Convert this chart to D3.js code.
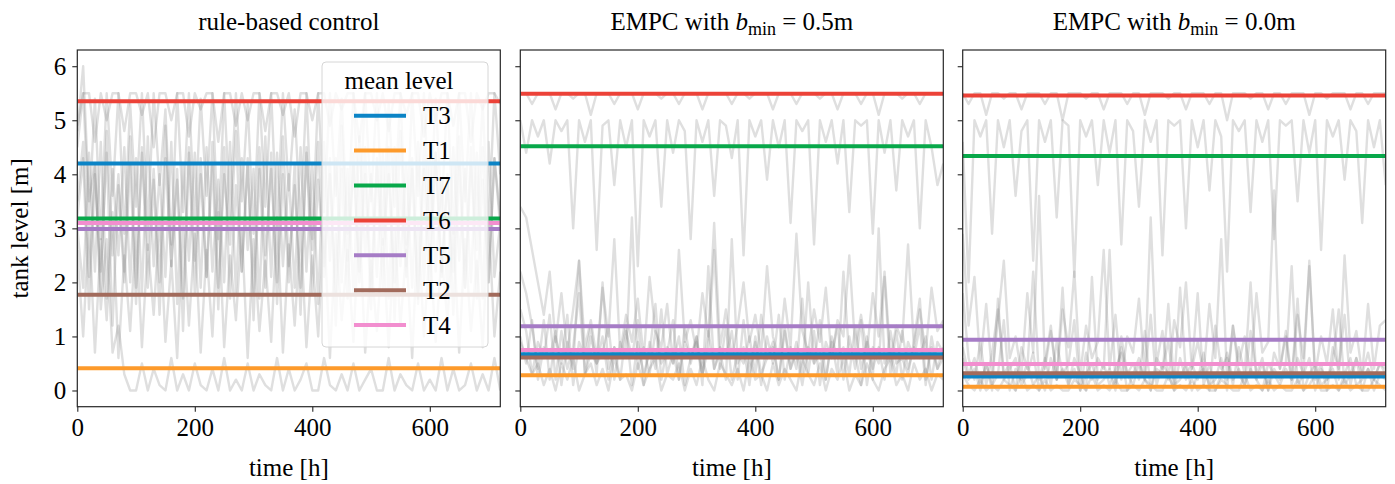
<!DOCTYPE html>
<head>
  <meta charset="utf-8">
  <script src="https://d3js.org/d3.v7.min.js"></script>
  <style>
    body {
      margin: 0;
      background: #fff;
    }

    text {
      font-family: 'Liberation Serif', serif;
      font-size: 25px;
      fill: #000;
    }

    .tick line {
      stroke: #262626;
      stroke-width: 1.1;
    }

    .domain {
      display: none;
    }

    .trace {
      fill: none;
      stroke: #808080;
      stroke-opacity: 0.25;
      stroke-width: 2.4;
      stroke-linejoin: round;
    }
  </style>
</head>
<body>
  <script>
    // tanks in legend / drawing order
    var tanks = ["T3", "T1", "T7", "T6", "T5", "T2", "T4"];
    var tankColors = ["#0b84c6", "#fd9a2b", "#08a84a", "#ec4238", "#a67cc6", "#a26b5c", "#f28ecf"];

    var xTicks = [0, 200, 400, 600];
    var yTicks = [0, 1, 2, 3, 4, 5, 6];

    // mean level per tank (same order as tanks)
    var meansRule = [4.20, 0.41, 3.18, 5.35, 2.99, 1.77, 3.10];
    var meansB05  = [0.67, 0.28, 4.52, 5.49, 1.19, 0.61, 0.75];
    var meansB00  = [0.26, 0.07, 4.34, 5.46, 0.94, 0.32, 0.49];

    // tank level traces, read every ~10 h over 0..720 h
    var ruleT3 = [4.5, 5.5, 3.2, 5.4, 2.8, 5.5, 3.6, 5.5, 2.9, 5.3, 3.4, 5.5, 3.0, 5.5, 3.8, 5.2, 2.7, 5.5, 3.3, 5.5, 3.1, 5.4, 3.6, 5.5, 2.8, 5.5, 3.2, 5.5, 3.5, 5.3, 2.9, 5.5, 3.4, 5.5, 3.0, 5.5, 3.7, 5.2, 3.1, 5.5, 2.8, 5.5, 3.3, 5.5, 3.6, 5.4, 2.9, 5.5, 3.2, 5.5, 3.5, 5.5, 3.0, 5.3, 3.4, 5.5, 2.7, 5.5, 3.6, 5.5, 3.1, 5.4, 3.3, 5.5, 2.9, 5.5, 3.5, 5.5, 3.2, 5.3, 3.0, 5.5, 4.0];
    var ruleT1 = [4.8, 6.0, 3.5, 4.2, 1.5, 2.8, 0.7, 1.2, 0.3, 0.0, 0.0, 0.5, 0.0, 0.4, 0.1, 0.0, 0.6, 0.0, 0.3, 0.0, 0.5, 0.1, 0.0, 0.4, 0.0, 0.6, 0.0, 0.2, 0.0, 0.5, 0.0, 0.3, 0.1, 0.0, 0.6, 0.0, 0.4, 0.0, 0.2, 0.5, 0.0, 0.0, 0.6, 0.1, 0.0, 0.3, 0.0, 0.5, 0.0, 0.2, 0.4, 0.0, 0.0, 0.6, 0.0, 0.3, 0.1, 0.0, 0.5, 0.0, 0.2, 0.0, 0.6, 0.0, 0.4, 0.0, 0.1, 0.5, 0.0, 0.3, 0.0, 0.6, 0.0];
    var ruleT7 = [3.5, 4.6, 2.1, 4.2, 1.8, 4.8, 2.5, 4.0, 2.2, 4.7, 1.9, 4.4, 2.6, 4.1, 2.0, 4.9, 2.3, 3.9, 1.7, 4.5, 2.4, 4.3, 2.1, 4.6, 1.9, 4.0, 2.7, 4.8, 2.2, 4.2, 1.8, 4.5, 2.5, 4.1, 2.0, 4.7, 2.3, 3.8, 1.9, 4.4, 2.6, 4.6, 2.1, 4.0, 1.8, 4.9, 2.4, 4.2, 2.2, 4.5, 1.9, 4.3, 2.7, 4.0, 2.0, 4.8, 2.3, 4.1, 1.7, 4.6, 2.5, 4.4, 2.1, 3.9, 2.2, 4.7, 1.9, 4.2, 2.6, 4.5, 2.0, 4.3, 3.2];
    var ruleT6 = [4.9, 5.5, 5.5, 4.6, 5.5, 5.0, 5.5, 5.5, 4.8, 5.5, 5.5, 5.1, 5.5, 4.5, 5.5, 5.5, 5.0, 5.5, 5.5, 4.7, 5.5, 5.2, 5.5, 5.5, 4.6, 5.5, 5.5, 4.9, 5.5, 5.0, 5.5, 5.5, 4.8, 5.5, 5.5, 5.1, 5.5, 4.7, 5.5, 5.5, 5.0, 5.5, 5.5, 4.9, 5.5, 5.2, 5.5, 5.5, 4.6, 5.5, 5.5, 5.0, 5.5, 4.8, 5.5, 5.5, 5.1, 5.5, 5.5, 4.7, 5.5, 5.0, 5.5, 5.5, 4.9, 5.5, 5.5, 4.6, 5.5, 5.2, 5.5, 5.5, 5.3];
    var ruleT5 = [3.2, 4.3, 1.5, 4.0, 2.2, 4.4, 1.2, 3.8, 2.0, 4.2, 1.6, 4.5, 1.9, 3.9, 1.4, 4.3, 2.3, 4.1, 1.1, 4.4, 1.8, 4.0, 2.1, 4.2, 1.5, 4.5, 1.7, 3.8, 2.2, 4.3, 1.3, 4.1, 1.9, 4.4, 1.6, 4.0, 2.0, 4.2, 1.4, 4.5, 1.8, 3.9, 2.3, 4.3, 1.2, 4.1, 1.7, 4.4, 2.0, 4.0, 1.5, 4.2, 1.9, 4.5, 1.3, 3.8, 2.1, 4.3, 1.6, 4.1, 1.8, 4.4, 2.2, 4.0, 1.4, 4.2, 1.9, 4.5, 1.7, 3.9, 2.0, 4.3, 3.0];
    var ruleT2 = [2.6, 1.0, 3.1, 0.7, 2.8, 1.3, 3.3, 0.6, 2.5, 1.1, 3.0, 0.8, 2.7, 1.4, 3.2, 0.9, 2.4, 0.6, 3.1, 1.2, 2.9, 0.7, 2.6, 1.0, 3.3, 0.8, 2.5, 1.3, 3.0, 0.6, 2.8, 1.1, 2.4, 0.9, 3.2, 0.7, 2.7, 1.2, 3.0, 0.8, 2.5, 1.0, 3.1, 0.6, 2.9, 1.3, 2.6, 0.9, 3.2, 0.7, 2.4, 1.1, 2.8, 0.8, 3.0, 1.2, 2.6, 0.6, 3.1, 1.0, 2.7, 0.9, 2.5, 1.3, 3.0, 0.7, 2.8, 1.1, 2.4, 0.8, 3.2, 1.0, 2.2];
    var ruleT4 = [3.0, 1.9, 4.4, 2.2, 4.6, 1.7, 4.1, 2.5, 4.5, 2.0, 4.3, 1.8, 4.7, 2.3, 4.0, 2.1, 4.6, 1.6, 4.2, 2.4, 4.4, 1.9, 4.5, 2.2, 3.9, 2.0, 4.6, 1.8, 4.3, 2.6, 4.1, 1.7, 4.7, 2.1, 4.4, 2.3, 4.0, 1.9, 4.5, 2.2, 4.2, 1.6, 4.6, 2.4, 4.3, 2.0, 4.1, 1.8, 4.7, 2.5, 4.0, 2.1, 4.4, 1.7, 4.5, 2.3, 4.2, 1.9, 4.6, 2.0, 4.3, 2.2, 3.9, 1.8, 4.5, 2.4, 4.1, 2.0, 4.4, 1.7, 4.6, 2.1, 3.1];

    var b05T3 = [1.5, 1.1, 0.3, 0.9, 0.6, 1.4, 0.2, 1.1, 0.4, 0.8, 1.8, 0.3, 1.0, 0.5, 0.7, 1.2, 0.2, 0.9, 0.6, 3.2, 0.4, 0.8, 0.3, 1.1, 0.5, 0.7, 1.3, 0.2, 0.9, 0.6, 1.0, 0.3, 0.8, 2.6, 0.4, 1.2, 0.2, 0.7, 0.5, 1.0, 0.3, 1.4, 0.6, 0.8, 0.2, 1.1, 0.4, 0.9, 0.3, 2.0, 0.5, 0.7, 0.2, 1.0, 0.6, 0.8, 0.3, 1.2, 0.4, 0.9, 0.2, 3.0, 0.5, 0.7, 0.3, 1.1, 0.4, 0.8, 0.6, 1.0, 0.2, 0.9, 0.7];
    var b05T1 = [0.9, 0.6, 0.3, 0.5, 0.1, 0.4, 0.0, 0.5, 0.2, 0.6, 0.0, 0.3, 0.5, 0.1, 0.4, 0.0, 0.6, 0.2, 0.3, 0.0, 0.5, 0.1, 0.4, 0.6, 0.0, 0.3, 0.2, 0.5, 0.0, 0.4, 0.1, 0.6, 0.2, 0.0, 0.5, 0.3, 0.1, 0.4, 0.0, 0.6, 0.2, 0.3, 0.0, 0.5, 0.1, 0.4, 0.2, 0.0, 0.6, 0.3, 0.1, 0.5, 0.0, 0.4, 0.2, 0.6, 0.0, 0.3, 0.1, 0.5, 0.2, 0.0, 0.4, 0.6, 0.1, 0.3, 0.0, 0.5, 0.2, 0.4, 0.0, 0.3, 0.2];
    var b05T7 = [5.0, 4.4, 5.0, 4.7, 5.0, 4.2, 5.0, 4.8, 5.0, 3.0, 5.0, 4.6, 5.0, 2.6, 4.9, 5.0, 3.8, 5.0, 4.5, 5.0, 2.3, 5.0, 4.7, 5.0, 3.4, 5.0, 4.4, 5.0, 4.8, 2.8, 5.0, 4.6, 5.0, 3.6, 5.0, 4.9, 4.3, 5.0, 2.5, 5.0, 4.7, 5.0, 3.9, 5.0, 4.5, 5.0, 3.1, 5.0, 4.8, 5.0, 2.7, 5.0, 4.6, 5.0, 4.2, 5.0, 3.3, 5.0, 4.9, 5.0, 2.9, 5.0, 4.4, 5.0, 3.7, 5.0, 4.7, 5.0, 3.0, 5.0, 4.5, 3.8, 4.2];
    var b05T6 = [5.5, 5.5, 5.3, 5.5, 5.5, 5.5, 5.2, 5.5, 5.5, 5.4, 5.5, 5.5, 5.1, 5.5, 5.5, 5.5, 5.3, 5.5, 5.5, 5.5, 5.2, 5.5, 5.5, 5.5, 5.4, 5.5, 5.5, 5.3, 5.5, 5.5, 5.5, 5.2, 5.5, 5.5, 5.5, 5.5, 5.3, 5.5, 5.5, 5.4, 5.5, 5.5, 5.5, 5.2, 5.5, 5.5, 5.5, 5.3, 5.5, 5.5, 5.5, 5.4, 5.5, 5.5, 5.2, 5.5, 5.5, 5.5, 5.3, 5.5, 5.5, 5.1, 5.5, 5.5, 5.5, 5.4, 5.5, 5.5, 5.3, 5.5, 5.5, 5.5, 5.5];
    var b05T5 = [3.4, 3.2, 2.6, 2.0, 1.4, 2.2, 0.9, 1.8, 0.7, 1.5, 2.4, 0.8, 1.3, 0.6, 1.9, 1.0, 2.8, 0.7, 1.4, 0.9, 1.7, 0.6, 2.1, 1.1, 0.8, 1.6, 0.5, 2.6, 0.9, 1.3, 0.7, 1.8, 1.0, 3.1, 0.8, 1.5, 0.6, 1.2, 2.0, 0.9, 1.4, 0.7, 2.3, 1.0, 0.6, 1.7, 0.8, 2.9, 1.1, 0.7, 1.5, 0.9, 1.9, 0.6, 1.3, 1.0, 2.5, 0.8, 1.4, 0.7, 1.8, 1.0, 2.2, 0.6, 1.2, 0.9, 2.7, 0.8, 1.5, 0.7, 1.9, 1.1, 1.3];
    var b05T2 = [1.0, 0.5, 1.3, 0.2, 0.8, 0.6, 1.1, 0.1, 0.9, 0.4, 2.4, 0.3, 0.7, 0.5, 1.0, 0.2, 0.8, 0.6, 1.2, 0.1, 0.9, 0.3, 0.7, 1.6, 0.2, 0.8, 0.5, 1.0, 0.1, 0.6, 0.9, 0.3, 1.1, 0.4, 0.7, 0.2, 2.8, 0.5, 0.8, 0.1, 1.0, 0.3, 0.6, 0.9, 0.2, 1.2, 0.4, 0.7, 0.1, 0.8, 0.5, 1.3, 0.2, 0.9, 0.3, 2.2, 0.6, 0.7, 0.1, 1.0, 0.4, 0.8, 0.2, 1.1, 0.5, 0.6, 0.3, 0.9, 1.7, 0.2, 0.8, 0.4, 0.6];
    var b05T4 = [2.2, 1.8, 1.2, 0.4, 1.3, 0.2, 1.0, 0.5, 1.4, 0.1, 0.9, 0.6, 1.2, 0.3, 2.0, 0.4, 0.8, 0.2, 1.1, 0.6, 1.3, 0.1, 0.9, 0.4, 1.5, 0.3, 0.7, 0.2, 1.2, 0.5, 1.0, 0.1, 2.3, 0.4, 0.8, 0.6, 1.1, 0.2, 1.3, 0.3, 0.9, 0.1, 1.0, 0.5, 1.4, 0.2, 0.8, 0.4, 1.7, 0.3, 1.1, 0.1, 0.9, 0.6, 1.2, 0.2, 1.0, 0.4, 1.3, 0.1, 0.8, 0.5, 2.1, 0.3, 1.1, 0.2, 0.9, 0.6, 1.2, 0.1, 1.0, 0.4, 0.8];

    var b00T3 = [0.6, 0.2, 0.4, 0.0, 0.5, 0.1, 0.3, 1.3, 0.0, 0.4, 0.2, 0.5, 0.1, 0.3, 0.0, 0.6, 0.2, 1.9, 0.1, 0.4, 0.0, 0.3, 0.5, 0.1, 0.2, 0.4, 0.0, 1.0, 0.3, 0.1, 0.5, 0.2, 0.0, 0.4, 0.3, 1.6, 0.1, 0.2, 0.5, 0.0, 0.3, 0.4, 0.1, 0.2, 0.6, 0.0, 1.2, 0.3, 0.1, 0.4, 0.2, 0.0, 0.5, 0.3, 0.1, 0.4, 0.2, 1.7, 0.0, 0.3, 0.5, 0.1, 0.2, 0.4, 0.0, 0.3, 0.6, 0.1, 0.2, 0.4, 0.0, 0.3, 0.2];
    var b00T1 = [0.3, 0.1, 0.0, 0.2, 0.0, 0.1, 0.0, 0.2, 0.1, 0.0, 0.3, 0.0, 0.1, 0.0, 0.2, 0.0, 0.1, 0.0, 0.0, 0.2, 0.1, 0.0, 0.3, 0.0, 0.1, 0.0, 0.2, 0.0, 0.0, 0.1, 0.0, 0.2, 0.1, 0.0, 0.0, 0.3, 0.0, 0.1, 0.0, 0.2, 0.0, 0.1, 0.0, 0.0, 0.2, 0.1, 0.0, 0.0, 0.3, 0.0, 0.1, 0.0, 0.2, 0.0, 0.1, 0.0, 0.0, 0.2, 0.0, 0.1, 0.3, 0.0, 0.0, 0.1, 0.0, 0.2, 0.0, 0.1, 0.0, 0.0, 0.2, 0.1, 0.0];
    var b00T7 = [4.6, 2.0, 5.0, 4.7, 5.0, 2.9, 5.0, 4.5, 5.0, 3.6, 4.8, 5.0, 2.4, 5.0, 4.6, 5.0, 3.2, 5.0, 4.9, 2.1, 5.0, 4.7, 5.0, 3.8, 5.0, 4.4, 5.0, 2.7, 5.0, 4.8, 3.4, 5.0, 4.6, 5.0, 2.5, 5.0, 4.9, 5.0, 3.0, 5.0, 4.5, 5.0, 3.7, 5.0, 4.7, 2.2, 5.0, 4.8, 5.0, 3.3, 5.0, 4.6, 5.0, 2.8, 5.0, 4.9, 5.0, 3.5, 5.0, 4.4, 5.0, 2.6, 5.0, 4.7, 5.0, 3.9, 5.0, 4.8, 3.1, 5.0, 4.5, 5.0, 3.8];
    var b00T6 = [5.5, 5.3, 5.5, 5.5, 5.1, 5.5, 5.5, 5.4, 5.5, 5.5, 5.2, 5.5, 5.5, 5.5, 5.3, 5.5, 5.5, 5.0, 5.5, 5.5, 5.5, 5.4, 5.5, 5.5, 5.2, 5.5, 5.5, 5.5, 5.3, 5.5, 5.5, 5.1, 5.5, 5.5, 5.5, 5.4, 5.5, 5.5, 5.2, 5.5, 5.5, 5.5, 5.3, 5.5, 5.5, 5.0, 5.5, 5.5, 5.5, 5.4, 5.5, 5.5, 5.2, 5.5, 5.5, 5.3, 5.5, 5.5, 5.5, 5.1, 5.5, 5.5, 5.4, 5.5, 5.5, 5.5, 5.2, 5.5, 5.5, 5.3, 5.5, 5.5, 5.5];
    var b00T5 = [2.9, 1.2, 2.1, 0.5, 1.6, 0.3, 1.3, 2.4, 0.6, 1.0, 0.3, 1.8, 0.7, 3.6, 0.4, 1.1, 0.2, 1.5, 0.8, 2.2, 0.3, 1.2, 0.6, 0.9, 2.6, 0.4, 1.4, 0.2, 1.0, 0.7, 1.7, 0.3, 3.2, 0.5, 1.1, 0.2, 1.3, 0.8, 2.0, 0.4, 0.9, 0.3, 1.6, 0.6, 2.8, 0.2, 1.2, 0.5, 1.0, 0.3, 1.8, 0.7, 0.9, 3.7, 0.4, 1.1, 0.2, 1.4, 0.6, 2.3, 0.3, 1.0, 0.5, 1.5, 0.2, 2.5, 0.7, 1.1, 0.3, 1.6, 0.4, 1.2, 1.3];
    var b00T2 = [0.8, 0.3, 0.6, 0.1, 0.5, 0.0, 1.7, 0.2, 0.4, 0.6, 0.1, 0.3, 0.7, 0.0, 0.5, 1.2, 0.2, 0.4, 0.1, 0.6, 0.3, 0.0, 2.1, 0.2, 0.5, 0.1, 0.4, 0.7, 0.0, 0.3, 0.6, 0.2, 1.4, 0.1, 0.5, 0.3, 0.0, 0.6, 0.2, 0.4, 1.8, 0.1, 0.5, 0.0, 0.3, 0.7, 0.2, 0.4, 0.1, 1.1, 0.3, 0.6, 0.0, 0.4, 0.2, 0.5, 2.3, 0.1, 0.3, 0.6, 0.0, 0.4, 0.2, 0.5, 1.5, 0.1, 0.3, 0.6, 0.0, 0.4, 0.2, 0.5, 0.3];
    var b00T4 = [1.8, 0.6, 0.2, 0.9, 0.1, 0.7, 1.5, 0.3, 0.5, 0.0, 0.8, 0.4, 2.2, 0.2, 0.6, 0.1, 0.9, 0.3, 0.5, 1.3, 0.0, 0.7, 0.2, 0.6, 0.4, 2.6, 0.1, 0.8, 0.3, 0.5, 0.2, 1.1, 0.0, 0.6, 0.4, 0.9, 0.1, 1.9, 0.3, 0.5, 0.2, 0.7, 0.0, 1.2, 0.4, 0.6, 0.1, 0.8, 0.3, 2.0, 0.2, 0.5, 0.0, 0.7, 0.4, 1.0, 0.1, 0.6, 0.3, 2.4, 0.2, 0.5, 0.0, 0.8, 0.4, 1.4, 0.1, 0.6, 0.3, 0.7, 0.2, 0.5, 0.4];

    var panels = [
      { title: null, plain: "rule-based control", means: meansRule,
        traces: [ruleT3, ruleT1, ruleT7, ruleT6, ruleT5, ruleT2, ruleT4] },
      { title: "0.5m", means: meansB05,
        traces: [b05T3, b05T1, b05T7, b05T6, b05T5, b05T2, b05T4] },
      { title: "0.0m", means: meansB00,
        traces: [b00T3, b00T1, b00T7, b00T6, b00T5, b00T2, b00T4] }
    ];

    var width = 1395, height = 484;
    var panelLeft = [77.3, 520.3, 962.7];
    var panelW = 423, plotTop = 50, panelH = 356.7;

    var svg = d3.select("body").append("svg")
        .attr("width", width)
        .attr("height", height);

    var x = d3.scaleLinear().domain([0, 720]).range([0, panelW]);
    var y = d3.scaleLinear().domain([-0.3, 6.3]).range([plotTop + panelH, plotTop]);

    svg.append("clipPath").attr("id", "clip")
      .append("rect")
        .attr("x", 0).attr("y", plotTop)
        .attr("width", panelW).attr("height", panelH);

    panels.forEach(function(p, k) {
      var g = svg.append("g")
          .attr("transform", "translate(" + panelLeft[k] + ",0)");

      var plot = g.append("g").attr("clip-path", "url(#clip)");

      p.traces.forEach(function(vals) {
        var n = vals.length;
        var line = d3.line()
            .x(function(d, i) { return x(i * 720 / (n - 1)); })
            .y(function(d) { return y(d); });
        plot.append("path")
            .attr("class", "trace")
            .attr("d", line(vals));
      });

      p.means.forEach(function(m, i) {
        plot.append("line")
            .attr("x1", 0)
            .attr("x2", panelW)
            .attr("y1", y(m))
            .attr("y2", y(m))
            .attr("stroke", tankColors[i])
            .attr("stroke-width", 4);
      });

      g.append("g")
          .attr("transform", "translate(0," + (plotTop + panelH) + ")")
          .call(d3.axisBottom(x).tickValues(xTicks).tickSize(5).tickPadding(7));

      g.append("g")
          .call(d3.axisLeft(y).tickValues(yTicks).tickSize(5).tickPadding(6)
            .tickFormat(k === 0 ? d3.format("d") : function() { return ""; }));

      g.append("rect")
          .attr("x", 0)
          .attr("y", plotTop)
          .attr("width", panelW)
          .attr("height", panelH)
          .attr("fill", "none")
          .attr("stroke", "#262626")
          .attr("stroke-width", 1.2);

      var title = g.append("text")
          .attr("x", panelW / 2)
          .attr("y", 29.5)
          .attr("text-anchor", "middle");
      if (p.title === null) {
        title.text(p.plain);
      } else {
        title.append("tspan").text("EMPC with ");
        title.append("tspan").attr("font-style", "italic").text("b");
        title.append("tspan").attr("dy", 5).style("font-size", "18px").text("min");
        title.append("tspan").attr("dy", -5).text(" = " + p.title);
      }

      g.append("text")
          .attr("x", panelW / 2)
          .attr("y", 476)
          .attr("text-anchor", "middle")
          .text("time [h]");

      if (k === 0) {
        g.append("text")
            .attr("transform", "translate(-49," + (plotTop + panelH / 2) + ") rotate(-90)")
            .attr("text-anchor", "middle")
            .text("tank level [m]");

        // legend
        var lg = g.append("g").attr("transform", "translate(244.7,62)");
        lg.append("rect")
            .attr("width", 166)
            .attr("height", 285)
            .attr("rx", 4)
            .attr("fill", "#fff")
            .attr("fill-opacity", 0.8)
            .attr("stroke", "#d6d6d6")
            .attr("stroke-width", 1);
        lg.append("text")
            .attr("x", 77)
            .attr("y", 27.3)
            .attr("text-anchor", "middle")
            .text("mean level");
        tanks.forEach(function(t, i) {
          var ly = 53.7 + 34.9 * i;
          lg.append("line")
              .attr("x1", 32).attr("x2", 84)
              .attr("y1", ly).attr("y2", ly)
              .attr("stroke", tankColors[i])
              .attr("stroke-width", 4);
          lg.append("text")
              .attr("x", 101)
              .attr("y", ly + 8.5)
              .text(t);
        });
      }
    });
  </script>
</body>
